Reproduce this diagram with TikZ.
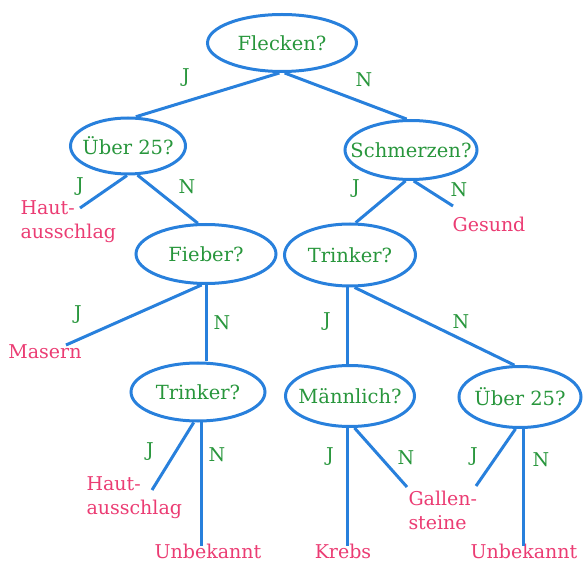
\documentclass[tikz,border=0pt]{standalone}
\usepackage{fontspec}
\setmainfont{DejaVu Serif}
\usetikzlibrary{shapes.geometric, positioning}
\definecolor{astblau}{RGB}{40,128,220}
\definecolor{gruen}{RGB}{40,150,60}
\definecolor{rosa}{RGB}{235,60,115}

\begin{document}
\begin{tikzpicture}[x=1pt,y=-1pt,line width=3pt,
    frage/.style={ellipse, draw=astblau, text=gruen, inner ysep=0pt, inner xsep=-25pt,
        font=\fontsize{19.5}{22}\selectfont},
    blatt/.style={text=rosa, align=left, inner sep=0pt,
        font=\fontsize{19}{24}\selectfont},
    antwort/.style={text=gruen, inner sep=0pt, font=\fontsize{19}{22}\selectfont},
    ast/.style={draw=astblau}]
    \useasboundingbox (0,0) rectangle (587,564);

    % Fragen
    \node[frage, minimum width=149, minimum height=57] (flecken) at (282,43) {Flecken?};
    \node[frage, minimum width=115, minimum height=56] (ueberA) at (128,146) {Über 25?};
    \node[frage, minimum width=132, minimum height=59] (schmerzen) at (411,150) {Schmerzen?};
    \node[frage, minimum width=140, minimum height=59] (fieber) at (206,254) {Fieber?};
    \node[frage, minimum width=131, minimum height=62] (trinkerA) at (350,255) {Trinker?};
    \node[frage, minimum width=134, minimum height=58] (trinkerB) at (198,392) {Trinker?};
    \node[frage, minimum width=129, minimum height=61] (maennlich) at (350,396) {Männlich?};
    \node[frage, minimum width=122, minimum height=61] (ueberB) at (520,397) {Über 25?};

    % Blaetter
    \node[blatt, anchor=west] (hautA) at (19,222) {Haut-\\ausschlag};
    \node[blatt] (gesund) at (489,224) {Gesund};
    \node[blatt] (masern) at (45,352) {Masern};
    \node[blatt, anchor=west] (hautB) at (85,498) {Haut-\\ausschlag};
    \node[blatt] (unbekanntA) at (208,551) {Unbekannt};
    \node[blatt] (krebs) at (343,551) {Krebs};
    \node[blatt, anchor=west] (gallen) at (407,510) {Gallen-\\steine};
    \node[blatt] (unbekanntB) at (524,551) {Unbekannt};

    % freie Enden
    \coordinate (endeA) at (80,208);
    \coordinate (endeB) at (453,206);
    \coordinate (endeC) at (66,345);
    \coordinate (endeD) at (152,490);
    \coordinate (endeE) at (407,487);
    \coordinate (endeF) at (476,486);

    % Aeste
    \draw[ast] (flecken.-95) -- (ueberA.75);
    \draw[ast] (flecken.-85) -- (schmerzen.98);
    \draw[ast] (ueberA.-92) -- (endeA);
    \draw[ast] (ueberA.-72) -- (fieber.105);
    \draw[ast] (schmerzen.-100) -- (trinkerA.80);
    \draw[ast] (schmerzen.-85) -- (endeB);
    \draw[ast] (fieber.-98) -- (endeC);
    \draw[ast] (fieber.-90) -- (fieber.-90 |- trinkerB.north);
    \draw[ast] (trinkerA.-94) -- (trinkerA.-94 |- maennlich.north);
    \draw[ast] (trinkerA.-82) -- (ueberB.100);
    \draw[ast] (trinkerB.-98) -- (endeD);
    \draw[ast] (trinkerB.-84) -- ([yshift=-4pt]trinkerB.-84 |- unbekanntA.north);
    \draw[ast] (maennlich.-94) -- ([yshift=-4pt]maennlich.-94 |- krebs.north);
    \draw[ast] (maennlich.-82) -- (endeE);
    \draw[ast] (ueberB.-98) -- (endeF);
    \draw[ast] (ueberB.-84) -- ([yshift=-4pt]ueberB.-84 |- unbekanntB.north);

    % Antworten
    \node[antwort] (jA) at (186,78) {J};
    \node[antwort] (nA) at (364,80) {N};
    \node[antwort] (jB) at (80,187) {J};
    \node[antwort] (nB) at (187,187) {N};
    \node[antwort] (jC) at (356,189) {J};
    \node[antwort] (nC) at (459,190) {N};
    \node[antwort] (jD) at (78,315) {J};
    \node[antwort] (nD) at (222,323) {N};
    \node[antwort] (jE) at (327,322) {J};
    \node[antwort] (nE) at (461,322) {N};
    \node[antwort] (jF) at (150,452) {J};
    \node[antwort] (nF) at (217,455) {N};
    \node[antwort] (jG) at (330,457) {J};
    \node[antwort] (nG) at (406,458) {N};
    \node[antwort] (jH) at (474,457) {J};
    \node[antwort] (nH) at (541,460) {N};
\end{tikzpicture}
\end{document}
